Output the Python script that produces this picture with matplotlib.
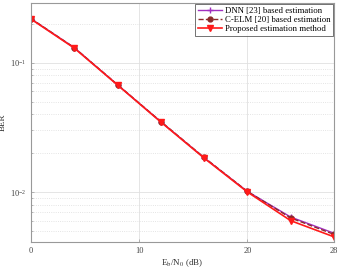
import matplotlib
matplotlib.use('Agg')
import matplotlib.pyplot as plt
import numpy as np

# Eb/N0 (dB) and BER values
snr = [0, 4, 8, 12, 16, 20, 24, 28]
ber_dnn = [0.219, 0.131, 0.0675, 0.0350, 0.0184, 0.0101, 0.0064, 0.0048]
ber_celm = [0.220, 0.131, 0.0677, 0.0351, 0.0185, 0.0101, 0.0063, 0.0047]
ber_prop = [0.218, 0.130, 0.0673, 0.0348, 0.0183, 0.0100, 0.0060, 0.0045]

labels = ['DNN [23] based estimation',
          'C-ELM [20] based estimation',
          'Proposed estimation method']
x_ticks = [0, 10, 20, 28]

plt.rcParams['font.family'] = ['Liberation Serif', 'DejaVu Serif']
plt.rcParams['mathtext.fontset'] = 'stix'

fig = plt.figure(figsize=(3.43, 2.72), dpi=100)
ax = fig.add_axes([0.090, 0.110, 0.884, 0.879])

ax.semilogy(snr, ber_dnn, color='#a030c0', marker='+', markersize=4,
            linewidth=1.0, label=labels[0])
ax.semilogy(snr, ber_celm, color='#8b2a2a', linestyle='--', marker='o',
            markersize=3.5, linewidth=1.0, label=labels[1])
ax.semilogy(snr, ber_prop, color='#ff1a1a', marker='v', markersize=4,
            linewidth=1.2, label=labels[2])

ax.set_xlim(0, 28)
ax.set_ylim(0.0041, 0.29)
ax.set_xticks(x_ticks)

ax.grid(True, which='major', color='#e0e0e0', linestyle='-', linewidth=0.6)
ax.grid(True, which='minor', axis='y', color='#dcdcdc', linestyle=':', linewidth=0.6)
ax.set_axisbelow(True)

for s in ax.spines.values():
    s.set_color('#999999')
    s.set_linewidth(0.8)
ax.tick_params(which='both', direction='in', colors='#999999', labelcolor='#444444',
               labelsize=6, length=2, width=0.5)
ax.tick_params(which='minor', length=1.2)

ax.set_xlabel(r'E$_\mathrm{b}$/N$_0$ (dB)', fontsize=6.5, color='#333333', labelpad=2)
ax.set_ylabel('BER', fontsize=6.5, color='#333333', labelpad=2)

leg = ax.legend(loc='upper right', fontsize=6.3, frameon=True, fancybox=False,
                edgecolor='#333333', borderpad=0.3, labelspacing=0.15,
                handlelength=2.8, handletextpad=0.3, borderaxespad=0.1)
leg.get_frame().set_linewidth(0.6)

fig.savefig('out.png', dpi=100)
